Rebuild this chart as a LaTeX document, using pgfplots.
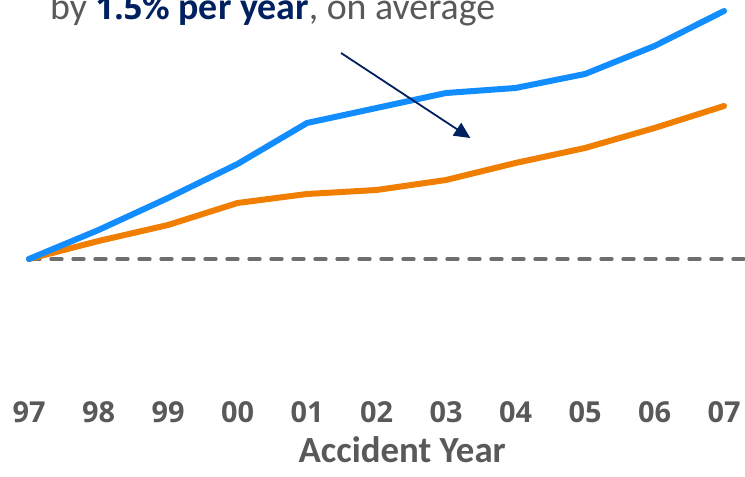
\documentclass[border=0pt]{standalone}
\usepackage{pgfplots}
\pgfplotsset{compat=1.18}
\usepackage{fontspec}
\setmainfont{Carlito}
\newfontfamily\numfont{Open Sans}
\usetikzlibrary{arrows.meta}
\definecolor{cblue}{RGB}{17,141,255}
\definecolor{corange}{RGB}{240,126,0}
\definecolor{cgray}{RGB}{110,110,110}
\definecolor{ctext}{RGB}{89,89,89}
\definecolor{cnavy}{RGB}{0,32,96}
\begin{document}
\begin{tikzpicture}
\useasboundingbox (0,0) rectangle (745bp,477bp);
\clip (0,0) rectangle (745bp,477bp);
\begin{axis}[
  scale only axis,
  width=745bp, height=477bp,
  anchor=south west, at={(0,0)},
  xmin=-0.4173, xmax=10.302,
  ymin=-218, ymax=259,
  axis line style={draw=none},
  ytick=\empty,
  xtick={0,...,10},
  xticklabels={97,98,99,00,01,02,03,04,05,06,07},
  /pgf/number format/assume math mode=true,
  major tick length=0pt,
  xticklabel style={font=\numfont\fontsize{29}{34}\selectfont\bfseries, text=ctext, anchor=north, inner sep=0pt, yshift=76bp},
  clip=false,
]
\addplot[cgray, line width=3.3bp, dash pattern=on 11bp off 11bp, line cap=round, forget plot] coordinates {(0,0) (10.5,0)};
\addplot[corange, line width=6bp, line cap=round, line join=round] coordinates {
(0,0) (1,18) (2,34) (3,56) (4,65) (5,69) (6,79) (7,96) (8,111) (9,131) (10,153)};
\addplot[cblue, line width=6bp, line cap=round, line join=round] coordinates {
(0,0) (1,29) (2,61) (3,95) (4,136) (5,151) (6,166) (7,171) (8,185) (9,213) (10,248)};
\draw[cnavy, line width=1.8bp, -{Triangle[length=16bp,width=15bp]}] (axis cs:4.49,206) -- (axis cs:6.35,121);
\node[anchor=base, font=\fontsize{37}{44}\selectfont\bfseries, text=ctext, inner sep=0pt] at (axis cs:5.37,-203) {Accident Year};
\node[anchor=base west, font=\fontsize{38}{44}\selectfont, text=ctext, inner sep=0pt] at (axis cs:0.302,239) {by \textbf{\color{cnavy}{\numfont\fontsize{33}{40}\selectfont 1.5}\% per year}, on average};
\end{axis}
\end{tikzpicture}
\end{document}
